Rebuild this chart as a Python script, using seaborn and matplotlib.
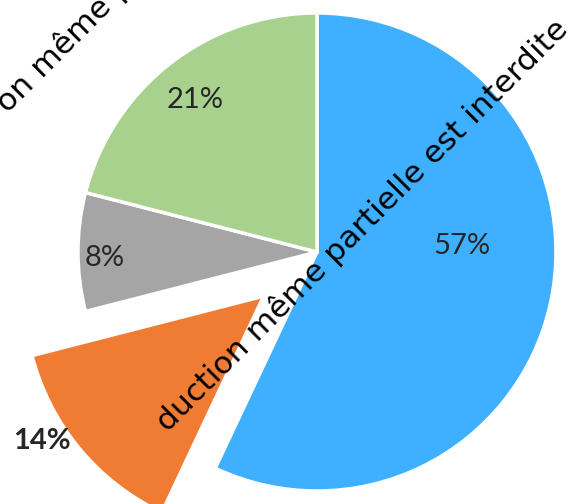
import seaborn as sns
import matplotlib.pyplot as plt

# données du camembert (sens horaire depuis midi)
categories = ['A', 'B', 'C', 'D']
valeurs = [57, 14, 8, 21]
couleurs = ['#3FB0FF', '#F07C34', '#A5A5A5', '#A9D18E']
ecarts = [0, 0.29, 0, 0]
etiquettes = ['57%', '14%', '8%', '21%']
filigrane_1 = 'duction même partielle est interdite'
filigrane_2 = 'on même partielle est interdite'

sns.set_theme(style='white')
plt.rcParams['font.family'] = ['Lato', 'DejaVu Sans']

fig = plt.figure(figsize=(5.71, 5.04), dpi=100)
ax = fig.add_axes([0, 0, 1, 1])

wedges, _ = ax.pie(
    valeurs,
    colors=sns.color_palette(couleurs),
    explode=ecarts,
    startangle=90,
    counterclock=False,
    radius=1,
    wedgeprops=dict(edgecolor='white', linewidth=2.5),
)

# étiquettes placées comme dans Excel
pos_etiquettes = [(0.607, 0.025), (-1.15, -0.79), (-0.887, -0.025), (-0.51, 0.636)]
for txt, (x, y), gras in zip(etiquettes, pos_etiquettes, [False, True, False, False]):
    ax.text(x, y, txt, ha='center', va='center', fontsize=21,
            fontweight='bold' if gras else 'normal', color='#262626')

ax.set_xlim(-317 / 239, (571 - 317) / 239)
ax.set_ylim(-252 / 239, 252 / 239)
ax.set_aspect('auto')
ax.axis('off')

# filigrane
fig.text(168 / 571, 1 - 433 / 504, filigrane_1, rotation=45, rotation_mode='anchor',
         ha='left', va='baseline', fontsize=22.6, family='DejaVu Sans', color='black')
fig.text(8 / 571, 1 - 114 / 504, filigrane_2, rotation=45, rotation_mode='anchor',
         ha='left', va='baseline', fontsize=22.6, family='DejaVu Sans', color='black')

fig.savefig('out.png', dpi=100)
